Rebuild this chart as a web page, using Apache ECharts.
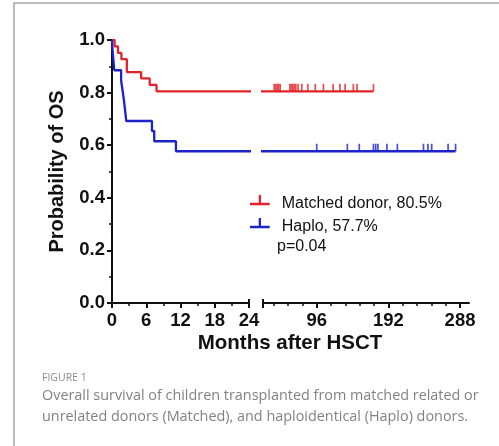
<!DOCTYPE html>
<html><head><meta charset="utf-8">
<script src="https://cdn.jsdelivr.net/npm/echarts@6/dist/echarts.min.js"></script>
<style>html,body{margin:0;padding:0;background:#fff}#c{width:499px;height:446px}</style>
</head><body><div id="c"></div>
<script>
// Kaplan-Meier steps (time in months, survival probability)
const matchedTimes = [0, 0.45, 1.05, 1.65, 2.6, 5.1, 6.6, 7.8, 172];
const matchedSurv  = [1, 0.976, 0.951, 0.927, 0.878, 0.854, 0.829, 0.805, 0.805];
const haploTimes = [0, 0.1, 0.25, 0.4, 1.6, 1.85, 2.1, 2.3, 2.5, 7.0, 7.4, 11.2, 282];
const haploSurv  = [1, 0.962, 0.923, 0.885, 0.846, 0.808, 0.769, 0.731, 0.692, 0.654, 0.615, 0.577, 0.577];
// censoring times (months)
const matchedCensor = [39, 41, 43, 45, 47, 60, 62, 64, 66, 68, 71, 76, 84, 94, 105, 118, 127, 134, 145, 150, 172];
const haploCensor = [96, 137, 153, 172, 175, 178, 190, 204, 239, 245, 250, 272, 282];
// axis ticks
const xTicksLeft = [0, 6, 12, 18, 24];
const xTicksRight = [96, 192, 288];
const xMinorRight = [38.4, 57.6, 76.8, 115.2, 134.4, 153.6, 172.8, 211.2, 230.4, 249.6, 268.8];
const yTicks = [0, 0.2, 0.4, 0.6, 0.8, 1.0];
const seriesNames = ['Matched donor, 80.5%', 'Haplo, 57.7%'];
const pText = 'p=0.04';
const xName = 'Months after HSCT';
const yName = 'Probability of OS';
const captionHead = 'FIGURE 1';
const captionLines = ['Overall survival of children transplanted from matched related or',
  'unrelated donors (Matched), and haploidentical (Haplo) donors.'];

const RED = '#e3222a', BLUE = '#1c23c9', INK = '#111';
const FONT = 'Liberation Sans, Arial, sans-serif';
const CAPFONT = 'Open Sans, sans-serif';
const LW = 2.3;

function km(t, s) { return t.map((v, i) => [v, s[i]]); }
function survAt(t, s, x) { let v = s[0]; for (let i = 0; i < t.length; i++) if (t[i] <= x) v = s[i]; return v; }
function censorPts(c, t, s) { return c.map(x => [x, survAt(t, s, x)]); }

const chart = echarts.init(document.getElementById('c'), null, {renderer: 'canvas'});
const tickLbl = {fontSize: 18.5, fontWeight: 'bold', color: INK, fontFamily: FONT};
const axLine = {show: true, lineStyle: {color: INK, width: 2}};
const iconPath = 'path://M0,9h20v2.3h-20z M8.85,1h2.3v8h-2.3z M26.9,19.2h0.1v0.1h-0.1z';

chart.setOption({
  animation: false,
  grid: [
    {left: 112, top: 40, width: 137, height: 263},
    {left: 263, top: 40, width: 206, height: 263}
  ],
  xAxis: [
    {gridIndex: 0, type: 'value', position: 'bottom', min: xTicksLeft[0], max: xTicksLeft[xTicksLeft.length - 1], interval: 6,
     axisLine: axLine, splitLine: {show: false},
     axisTick: {show: true, length: 5, lineStyle: {color: INK, width: 2}},
     minorTick: {show: true, splitNumber: 2, length: 3, lineStyle: {color: INK, width: 1.5}},
     axisLabel: Object.assign({margin: 8, customValues: xTicksLeft}, tickLbl)},
    {gridIndex: 0, type: 'value', position: 'bottom', min: 0, max: 24, axisLine: {show: false}, splitLine: {show: false},
     axisTick: {show: true, inside: true, length: 4, customValues: [24], lineStyle: {color: INK, width: 2}},
     axisLabel: {show: false}},
    {gridIndex: 1, type: 'value', position: 'bottom', min: 24, max: 300, axisLine: axLine, splitLine: {show: false},
     axisTick: {show: true, length: 5, customValues: [24].concat(xTicksRight), lineStyle: {color: INK, width: 2}},
     axisLabel: Object.assign({margin: 8, customValues: xTicksRight}, tickLbl)},
    {gridIndex: 1, type: 'value', position: 'bottom', min: 24, max: 300, axisLine: {show: false}, splitLine: {show: false},
     axisTick: {show: true, length: 3, customValues: xMinorRight, lineStyle: {color: INK, width: 1.5}},
     axisLabel: {show: false}},
    {gridIndex: 1, type: 'value', position: 'bottom', min: 24, max: 300, axisLine: {show: false}, splitLine: {show: false},
     axisTick: {show: true, inside: true, length: 4, customValues: [24], lineStyle: {color: INK, width: 2}},
     axisLabel: {show: false}}
  ],
  yAxis: [
    {gridIndex: 0, type: 'value', min: yTicks[0], max: yTicks[yTicks.length - 1], interval: 0.2,
     axisLine: axLine, splitLine: {show: false},
     axisTick: {show: true, length: 5, lineStyle: {color: INK, width: 2}},
     minorTick: {show: true, splitNumber: 2, length: 3, lineStyle: {color: INK, width: 1.5}},
     axisLabel: Object.assign({margin: 7, formatter: v => v.toFixed(1)}, tickLbl),
     name: yName, nameLocation: 'middle', nameGap: 45,
     nameTextStyle: {fontSize: 20, fontWeight: 'bold', color: INK, fontFamily: FONT}},
    {gridIndex: 1, type: 'value', min: 0, max: 1, show: false}
  ],
  legend: {
    orient: 'vertical', left: 245, top: 190, itemWidth: 27, itemHeight: 18, itemGap: 5,
    selectedMode: false,
    textStyle: {fontSize: 16, color: INK, fontFamily: FONT},
    data: [
      {name: seriesNames[0], icon: iconPath, itemStyle: {color: RED, borderWidth: 0}},
      {name: seriesNames[1], icon: iconPath, itemStyle: {color: BLUE, borderWidth: 0}}
    ]
  },
  series: [
    {name: seriesNames[0], type: 'line', step: 'end', xAxisIndex: 0, yAxisIndex: 0, showSymbol: false,
     data: km(matchedTimes, matchedSurv), color: RED, lineStyle: {color: RED, width: LW}},
    {name: seriesNames[1], type: 'line', step: 'end', xAxisIndex: 0, yAxisIndex: 0, showSymbol: false,
     data: km(haploTimes, haploSurv), color: BLUE, lineStyle: {color: BLUE, width: LW}},
    {name: seriesNames[0], type: 'line', step: 'end', xAxisIndex: 2, yAxisIndex: 1, showSymbol: false,
     data: km(matchedTimes, matchedSurv), color: RED, lineStyle: {color: RED, width: LW}},
    {name: seriesNames[1], type: 'line', step: 'end', xAxisIndex: 2, yAxisIndex: 1, showSymbol: false,
     data: km(haploTimes, haploSurv), color: BLUE, lineStyle: {color: BLUE, width: LW}},
    {name: seriesNames[0], type: 'scatter', xAxisIndex: 2, yAxisIndex: 1, symbol: 'rect',
     symbolSize: [1.7, 7.5], symbolOffset: [0, -3.75], itemStyle: {color: RED},
     data: censorPts(matchedCensor, matchedTimes, matchedSurv)},
    {name: seriesNames[1], type: 'scatter', xAxisIndex: 2, yAxisIndex: 1, symbol: 'rect',
     symbolSize: [1.7, 7.5], symbolOffset: [0, -3.75], itemStyle: {color: BLUE},
     data: censorPts(haploCensor, haploTimes, haploSurv)}
  ],
  graphic: [
    {type: 'rect', shape: {x: 14, y: 3, width: 560, height: 520}, style: {fill: 'none', stroke: '#a6a6a6', lineWidth: 1.5}, silent: true},
    {type: 'text', x: 277, y: 247, style: {text: pText, fontSize: 16, fill: INK, fontFamily: FONT, verticalAlign: 'middle'}},
    {type: 'text', x: 290, y: 343, style: {text: xName, fontSize: 20.5, fontWeight: 'bold', fill: INK, fontFamily: FONT, align: 'center', verticalAlign: 'middle'}},
    {type: 'text', x: 42, y: 378, style: {text: captionHead, fontSize: 10.5, fill: '#8c8c8c', fontFamily: CAPFONT, verticalAlign: 'middle'}},
    {type: 'text', x: 42, y: 396, style: {text: captionLines[0], fontSize: 14.4, fill: '#828282', fontFamily: CAPFONT, verticalAlign: 'middle'}},
    {type: 'text', x: 42, y: 417, style: {text: captionLines[1], fontSize: 14.4, fill: '#828282', fontFamily: CAPFONT, verticalAlign: 'middle'}}
  ]
});
</script></body></html>
